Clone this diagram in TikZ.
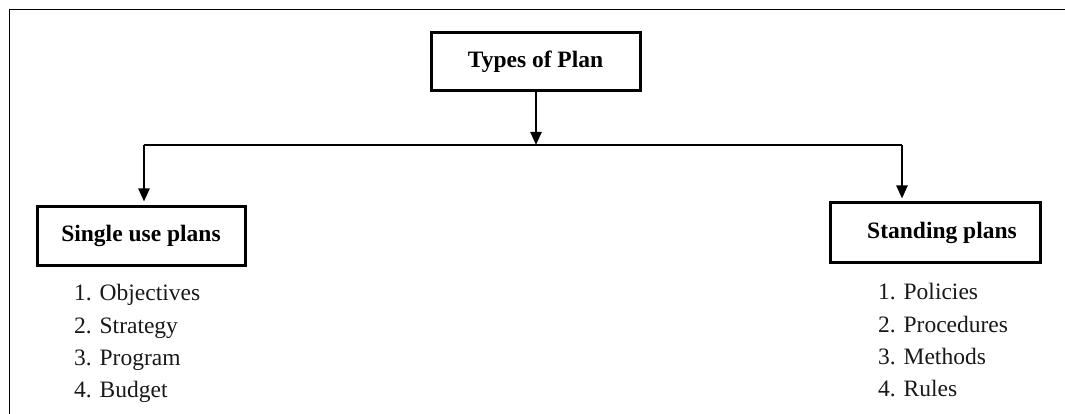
\documentclass[tikz,border=0pt]{standalone}
\usepackage{fontspec}
\setmainfont{Liberation Serif}
\usetikzlibrary{arrows.meta}
\begin{document}
\begin{tikzpicture}[x=1pt,y=-1pt,
  box/.style={draw=black,line width=3pt,rectangle,minimum width=209pt,minimum height=58pt,inner sep=0pt,
    font=\fontsize{23.5}{26}\selectfont\bfseries,text=black},
  item/.style={anchor=base west,inner sep=0pt,font=\fontsize{23.5}{26}\selectfont,text=black!90},
  conn/.style={line width=2.4pt,draw=black},
  arr/.style={conn,-{Triangle[width=11pt,length=13pt]}},
  frame/.style={line width=1.8pt,draw=black}]
\useasboundingbox (0,0) rectangle (1065,414);
\fill[white] (0,0) rectangle (1065,414);
% frame
\coordinate (fb) at (9.5,414);
\coordinate (fc) at (9.5,9.5);
\coordinate (fr) at (1065,9.5);
\draw[frame] (fb) -- (fc) -- (fr);
% boxes
\node[box] (top) at (535.5,62) {Types of Plan};
\node[box,minimum width=208pt] (single) at (141,236) {Single use plans};
\node[box,minimum width=210pt,minimum height=59pt] (standing) at (935,232.5) {\hspace*{14pt}Standing plans};
% connectors
\coordinate (j) at (536,145);
\coordinate (jl) at (144,145);
\coordinate (jr) at (902,145);
\draw[arr] (top.south -| j) -- (j);
\draw[conn] (jl) -- (jr);
\draw[arr] (jl) -- ([yshift=4pt]single.north -| jl);
\draw[arr] (jr) -- ([yshift=3pt]standing.north -| jr);
% lists
\node[item] (s1) at (74,300) {1. Objectives};
\node[item] (s2) at (74,333) {2. Strategy};
\node[item] (s3) at (74,365) {3. Program};
\node[item] (s4) at (74,397) {4. Budget};
\node[item] (p1) at (878,299) {1. Policies};
\node[item] (p2) at (878,332) {2. Procedures};
\node[item] (p3) at (878,364) {3. Methods};
\node[item] (p4) at (878,396) {4. Rules};
\end{tikzpicture}
\end{document}
